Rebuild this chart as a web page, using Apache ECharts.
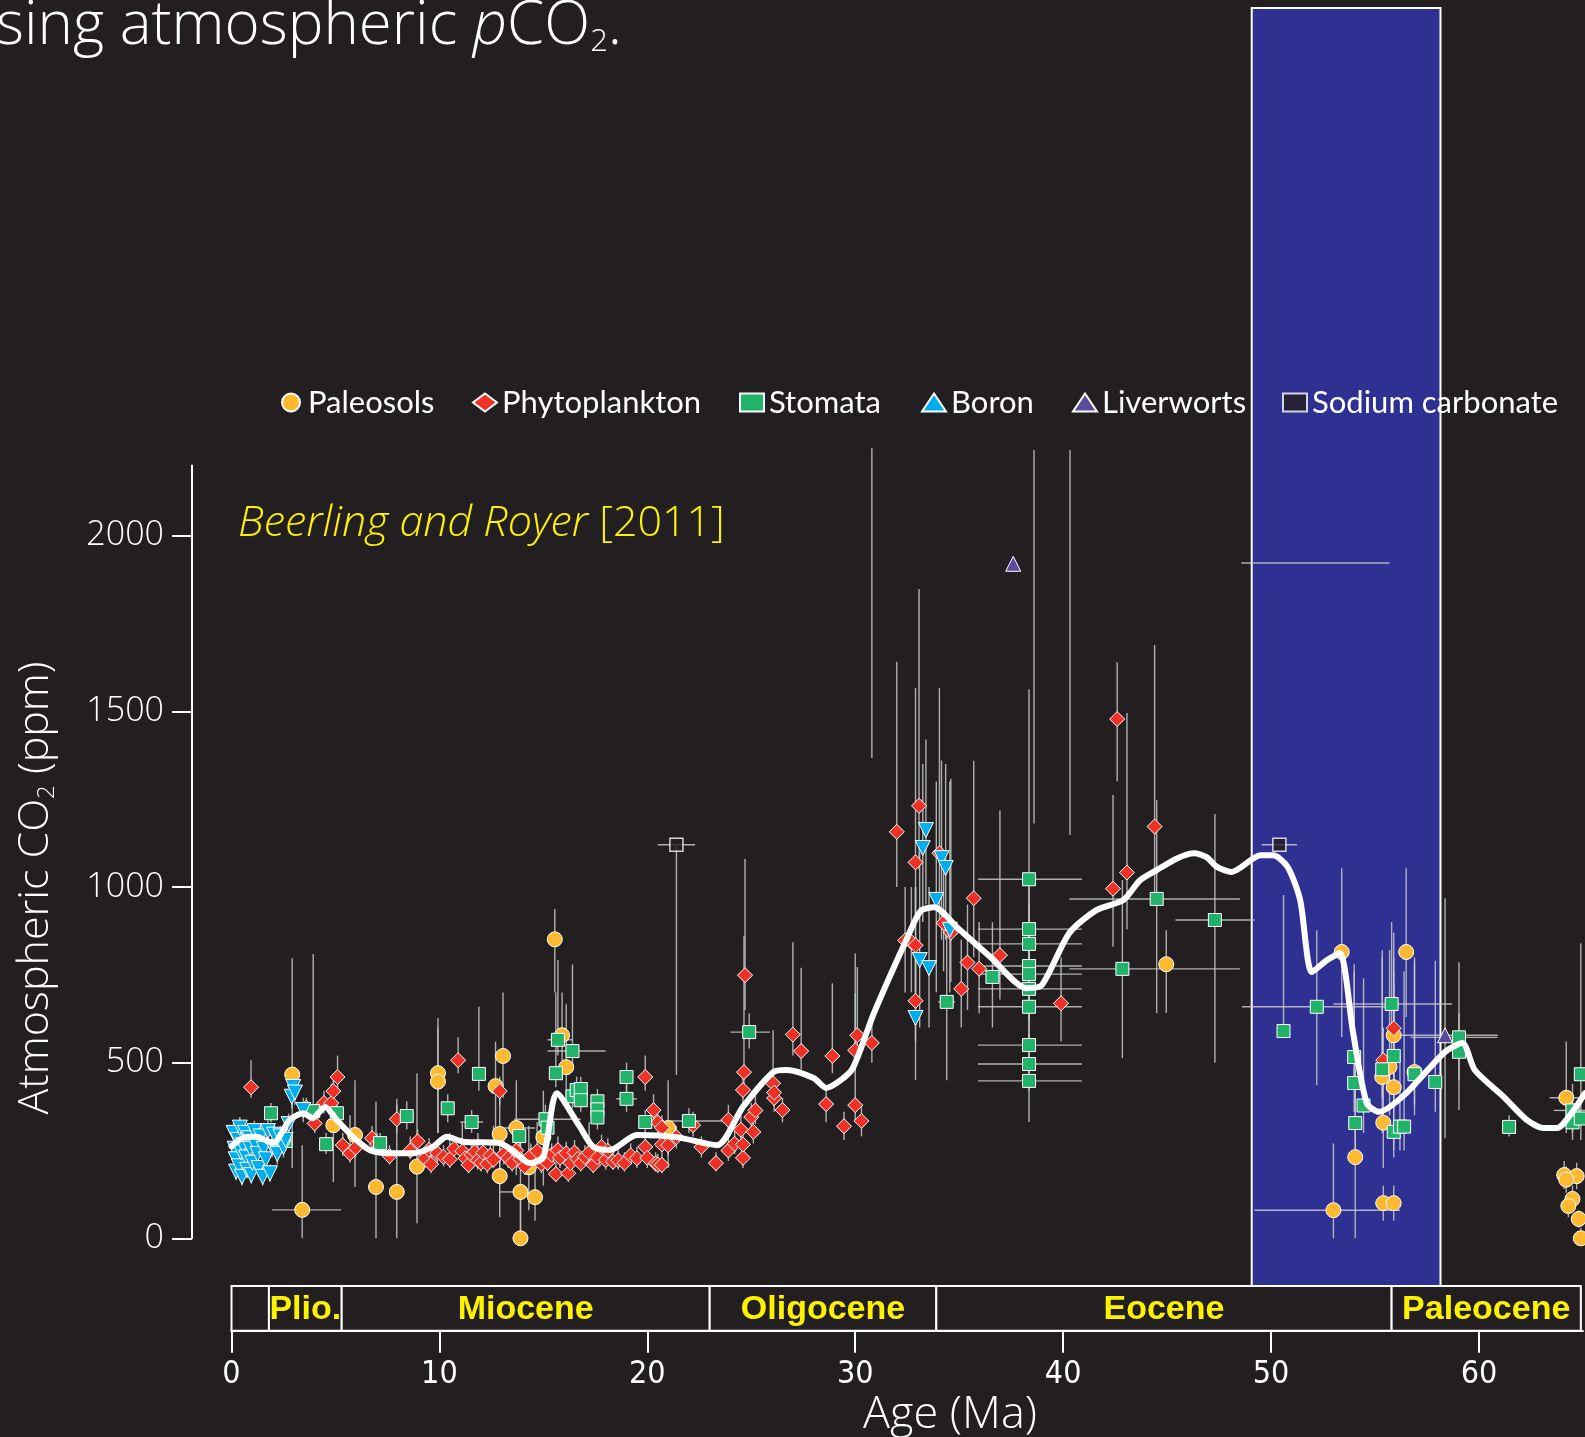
<!DOCTYPE html>
<html>
<head>
<meta charset="utf-8">
<script src="https://cdn.jsdelivr.net/npm/echarts@6/dist/echarts.min.js"></script>
<style>
  html, body { margin: 0; padding: 0; background: #231f20; }
  #chart { width: 1585px; height: 1437px; }
</style>
</head>
<body>
<div id="chart"></div>
<script>
// Cenozoic CO2 proxy compilation.
// Rows: [age (Ma), CO2 (ppm), ppm low, ppm high, age low, age high]; null = no bar.
const paleosols = [
  [2.92, 466, 200, 797], [3.40, 81, 0, 265, 1.95, 5.27], [4.90, 322, 160, 450],
  [5.94, 294, 146, 450], [6.95, 146, 0, 389], [7.95, 132, 0, 397], [8.92, 204, 43, 470],
  [9.93, 470, 300, 627], [9.93, 446, 300, 600], [12.70, 433, 300, 560],
  [12.90, 297, 150, 450], [12.90, 177, 60, 300], [13.06, 519, 400, 700],
  [13.70, 314, 180, 450, 12.9, 14.6], [13.90, 132, 0, 290, 12.9, 14.0], [13.90, 0, 0, 110],
  [14.30, 202, 80, 320], [14.60, 117, 50, 220], [15.00, 288, 150, 420],
  [15.55, 851, 700, 937], [15.90, 578, 450, 700], [16.10, 487, 380, 666],
  [21.00, 314, 200, 450], [44.96, 780, 641, 877],
  [53.40, 815, 573, 1053], [53.00, 80, 0, 270, 49.2, 56.2], [54.05, 231, 0, 560],
  [55.35, 459, 300, 820], [55.40, 329, 200, 500], [55.40, 100, 50, 150, 55.0, 55.9],
  [55.70, 488, 350, 820], [55.90, 578, 400, 720], [55.90, 430, 250, 760],
  [55.90, 100, 50, 150, 55.5, 56.2], [56.50, 815, 630, 1053], [56.90, 473, 350, 800],
  [64.20, 400, 300, 560, 63.4, 65.1], [64.10, 180, 140, 220], [64.70, 177, 140, 215],
  [64.20, 167, 130, 205], [64.50, 112, 80, 150], [64.30, 92, 60, 125],
  [64.80, 55, 30, 80], [64.90, 0, 0, 30]
];

const phytoplankton = [
  [0.94, 430, 400, 507], [3.60, 372, 345, 400], [4.00, 327, 300, 365], [4.45, 385, 355, 420],
  [4.80, 385, 350, 440], [4.90, 419, 385, 470], [5.10, 459, 420, 520], [5.35, 265, 235, 300],
  [5.70, 242, 215, 350], [5.97, 258, 230, 290], [6.76, 285, 255, 320], [7.00, 268, 240, 300],
  [7.60, 234, 210, 265], [7.95, 339, 300, 380], [8.60, 250, 225, 290], [8.95, 276, 245, 310],
  [9.30, 228, 200, 260], [9.50, 252, 225, 285], [9.60, 211, 185, 240], [9.90, 242, 215, 275],
  [10.20, 232, 205, 265], [10.50, 225, 200, 300], [10.70, 255, 225, 290], [10.90, 507, 470, 572],
  [11.10, 248, 220, 330], [11.25, 228, 200, 260], [11.40, 209, 185, 240], [11.55, 238, 210, 270],
  [11.70, 246, 220, 280], [11.85, 222, 195, 300], [12.00, 215, 190, 245], [12.10, 244, 215, 280],
  [12.30, 212, 185, 240], [12.45, 236, 210, 270], [12.60, 224, 200, 320], [12.90, 419, 380, 460],
  [13.10, 240, 210, 300], [13.30, 228, 200, 260], [13.50, 215, 190, 245], [13.70, 250, 220, 285],
  [13.90, 225, 200, 300], [14.10, 205, 180, 235], [14.40, 235, 205, 270], [14.70, 248, 220, 330],
  [14.90, 212, 185, 240], [15.20, 215, 190, 245], [15.40, 238, 210, 270], [15.60, 183, 160, 215],
  [15.70, 251, 225, 290], [15.80, 229, 200, 260], [16.10, 242, 215, 275], [16.20, 185, 160, 215],
  [16.30, 214, 190, 245], [16.50, 244, 215, 280], [16.65, 226, 200, 260], [16.80, 214, 190, 245],
  [17.00, 232, 205, 265], [17.20, 244, 215, 330], [17.40, 209, 185, 240], [17.60, 230, 205, 265],
  [17.80, 260, 230, 295], [18.00, 223, 195, 255], [18.10, 249, 220, 285], [18.35, 218, 195, 250],
  [18.60, 222, 195, 255], [18.90, 214, 190, 245], [19.20, 236, 210, 270], [19.50, 228, 200, 260],
  [19.90, 459, 420, 520], [19.90, 260, 230, 295], [20.00, 229, 200, 260], [20.30, 365, 330, 410],
  [20.40, 213, 190, 245], [20.50, 330, 295, 370], [20.50, 210, 185, 240], [20.70, 315, 280, 350],
  [20.70, 267, 240, 300], [20.70, 209, 185, 240], [21.00, 265, 235, 300], [21.40, 288, 255, 320],
  [22.20, 322, 290, 360], [22.60, 260, 230, 290], [23.30, 214, 190, 245], [23.90, 337, 300, 380],
  [23.90, 250, 220, 285], [24.20, 269, 240, 305], [24.50, 309, 275, 350], [24.60, 229, 200, 260],
  [24.60, 267, 240, 300], [24.60, 422, 380, 470], [24.65, 473, 430, 860], [24.70, 749, 650, 1080],
  [25.00, 345, 310, 385], [25.10, 303, 270, 340], [25.20, 364, 325, 410], [26.05, 441, 400, 592],
  [26.10, 399, 360, 440], [26.10, 415, 375, 460], [26.50, 365, 330, 400], [27.00, 580, 520, 843],
  [27.40, 533, 480, 770], [28.60, 382, 330, 430], [28.90, 519, 470, 726], [29.46, 319, 280, 360],
  [30.00, 379, 330, 698], [30.00, 535, 480, 811], [30.10, 578, 520, 772], [30.30, 334, 290, 380],
  [30.80, 556, 500, 640], [32.00, 1157, 1000, 1641], [32.40, 848, 700, 1000], [32.70, 843, 700, 1000],
  [32.90, 1070, 900, 1566], [32.90, 834, 700, 1000], [32.90, 676, 560, 800], [33.07, 1231, 1050, 1848],
  [34.05, 1096, 900, 1566], [34.25, 898, 760, 1050], [34.60, 870, 730, 1308], [35.10, 710, 600, 850],
  [35.40, 785, 650, 950], [35.70, 968, 800, 1359], [35.96, 767, 640, 900], [36.96, 806, 680, 1218],
  [39.90, 669, 560, 800], [42.40, 995, 830, 1262], [42.60, 1478, 1300, 1640], [43.07, 1041, 880, 1495],
  [44.40, 1172, 960, 1689], [55.40, 507, 430, 600], [55.90, 598, 520, 680]
];

const stomata = [
  [1.90, 356, 330, 385], [2.60, 277, 250, 305], [3.93, 362, 330, 809], [4.55, 268, 240, 300],
  [5.07, 356, 325, 390], [7.15, 271, 245, 300], [8.43, 348, 310, 390], [10.40, 370, 330, 410],
  [11.55, 331, 300, 365, 11.0, 12.1], [11.90, 468, 420, 659], [13.84, 291, 260, 325],
  [15.10, 339, 300, 380, 13.6, 16.8], [15.20, 315, 280, 350], [15.60, 470, 430, 700],
  [15.70, 565, 520, 792, 15.2, 16.4], [16.40, 533, 490, 780, 15.2, 18.0], [16.40, 404, 370, 440],
  [16.60, 422, 385, 460], [16.80, 425, 390, 460], [16.80, 393, 360, 430], [17.60, 390, 355, 425],
  [17.60, 367, 335, 400], [17.60, 344, 310, 380], [19.00, 459, 420, 500],
  [19.00, 397, 360, 435, 18.5, 19.5], [19.90, 331, 300, 365], [22.00, 334, 300, 370, 21.1, 23.6],
  [24.90, 587, 540, 640, 24.0, 25.9], [34.40, 673, 450, 900, 34.0, 34.8], [36.60, 744, 600, 900],
  [38.36, 1022, 900, 1563, 35.9, 40.9], [38.36, 880, 780, 1000, 35.9, 40.9],
  [38.36, 838, 740, 950, 35.9, 40.9], [38.36, 775, 680, 880, 35.9, 40.9],
  [38.36, 752, 650, 860, 35.9, 40.9], [38.36, 710, 620, 820, 35.9, 40.9],
  [38.36, 659, 560, 760, 35.9, 40.9], [38.36, 550, 470, 640, 35.9, 40.9],
  [38.36, 496, 420, 580, 35.9, 40.9], [38.36, 448, 331, 520, 35.9, 40.9],
  [42.85, 767, 513, 1020, 40.3, 48.5], [44.50, 966, 641, 1247, 40.3, 48.5],
  [47.30, 906, 500, 1208, 45.4, 49.2], [50.60, 590, 590, 977], [52.20, 659, 436, 877, 48.6, 55.8],
  [55.80, 667, 500, 900, 53.0, 58.7], [55.90, 519, 430, 800], [54.00, 516, 420, 760],
  [54.00, 442, 360, 780], [54.45, 378, 300, 740], [54.05, 328, 250, 480], [55.35, 481, 400, 800],
  [55.90, 303, 230, 870], [56.20, 318, 250, 520], [56.40, 318, 250, 760], [56.90, 467, 380, 790],
  [57.90, 445, 360, 790], [59.04, 572, 365, 786, 56.7, 60.9], [59.04, 531, 450, 640],
  [61.45, 317, 290, 350], [64.50, 364, 300, 440, 63.6, 65.1], [64.50, 330, 280, 400],
  [64.90, 341, 280, 400], [64.90, 467, 380, 840]
];

const boron = [
  [0.10, 300, 270, 330], [0.15, 255, 225, 285], [0.20, 225, 195, 255], [0.22, 190, 165, 215],
  [0.30, 280, 250, 310], [0.35, 205, 180, 230], [0.40, 315, 285, 345], [0.45, 245, 215, 275],
  [0.50, 175, 150, 200], [0.55, 265, 235, 295], [0.65, 300, 270, 330], [0.70, 230, 200, 260],
  [0.75, 195, 170, 220], [0.85, 285, 255, 315], [0.90, 255, 225, 285], [0.95, 180, 155, 205],
  [1.00, 215, 190, 240], [1.10, 305, 275, 335], [1.15, 265, 235, 295], [1.25, 240, 210, 270],
  [1.30, 200, 175, 225], [1.40, 290, 260, 320], [1.50, 175, 150, 200], [1.55, 255, 225, 285],
  [1.65, 225, 200, 250], [1.75, 305, 275, 335], [1.85, 185, 160, 210], [1.95, 260, 230, 290],
  [2.05, 295, 265, 325], [2.20, 240, 210, 270], [2.35, 290, 260, 320], [2.50, 260, 230, 290],
  [2.60, 280, 250, 310], [2.75, 325, 295, 355], [2.90, 403, 370, 440], [2.97, 431, 395, 470],
  [3.05, 415, 380, 450], [3.45, 365, 330, 400],
  [32.90, 627, 450, 1000], [33.10, 792, 600, 1100], [33.25, 1111, 900, 1350], [33.40, 1162, 950, 1420],
  [33.55, 769, 600, 1000], [33.90, 963, 700, 1300], [34.15, 1082, 850, 1360], [34.35, 1054, 850, 1350],
  [34.55, 878, 700, 1300]
];

const liverworts = [
  [37.60, 1920, null, null], [58.37, 578, 285, 968, 56.2, 60.9]
];

const sodiumCarbonate = [
  [21.40, 1120, 465, 1120, 20.5, 22.3], [50.40, 1120, null, null, 49.55, 51.25]
];

// Uncertainty ranges whose central estimate is not plotted.
const openAgeRanges = [[30.80, 1367, 2249], [38.60, 1181, 2244], [40.33, 1148, 2244]]; // [age, ppm low, ppm high]
const openPpmRanges = [[1922, 48.57, 55.7]]; // [ppm, age low, age high]

// Central trend through the proxy record.
const trendCO2 = [
  [0.0, 262], [0.65, 288], [1.2, 289], [2.0, 271], [2.8, 337], [3.45, 356], [3.9, 342], [4.5, 374],
  [5.06, 337], [5.85, 288], [6.66, 251], [7.77, 242], [8.73, 242], [9.7, 261], [10.35, 289],
  [11.14, 275], [12.9, 271], [13.5, 251], [14.35, 214], [15.0, 231], [15.65, 413], [16.76, 317],
  [17.4, 260], [18.2, 251], [19.5, 294], [21.4, 288], [23.35, 265], [24.6, 374], [26.06, 473],
  [26.7, 479], [28.0, 456], [28.6, 428], [29.3, 450], [29.9, 486], [30.9, 641], [32.5, 855],
  [33.15, 932], [33.8, 942], [34.9, 885], [36.5, 801], [38.25, 712], [38.98, 721], [40.3, 869],
  [41.6, 934], [42.9, 963], [43.7, 1019], [44.5, 1048], [45.5, 1082], [46.3, 1096], [46.9, 1085],
  [47.4, 1057], [48.1, 1043], [49.5, 1090], [50.1, 1090], [50.8, 1057], [51.4, 963], [51.97, 758],
  [52.7, 792], [53.3, 812], [53.95, 584], [54.6, 385], [55.2, 360], [56.5, 413], [58.3, 527],
  [59.2, 556], [59.8, 479], [61.2, 402], [62.3, 337], [63.1, 314], [63.76, 314], [64.5, 360], [65.1, 413]
];

// Geological epochs (Ma).
const epochNames = ['', 'Plio.', 'Miocene', 'Oligocene', 'Eocene', 'Paleocene'];
const epochStarts = [0, 1.8, 5.3, 23.0, 33.9, 55.8];
const epochEnds = [1.8, 5.3, 23.0, 33.9, 55.8, 64.9];

// Highlighted interval (Ma).
const highlightAges = [49.07, 58.15];

const yTicks = [0, 500, 1000, 1500, 2000];
const xTicks = [0, 10, 20, 30, 40, 50, 60];

// ---- styling / layout
const BG = '#231f20';
const BAR_COLOR = 'rgba(200,200,200,0.85)';
const YELLOW = '#fff200';
const THIN_FONT = '"Open Sans", "DejaVu Sans", sans-serif';
const AXIS_X = 192;                 // pixel column of the ppm axis line
const AGE0_X = 231.5;               // pixel column of 0 Ma
const PX_PER_MA = 20.79;
const PLOT_RIGHT = 2.1;
const PLOT_TOP = 465.4, PLOT_H = 772.9;
const SCALE_TOP = 1286, SCALE_H = 44.7;
const BAND_TOP = 8;
const AGE_MIN = -(AGE0_X - AXIS_X) / PX_PER_MA;

function errorBars(rows) {
  return function (params, api) {
    const r = rows[params.dataIndex];
    const kids = [];
    const st = { stroke: BAR_COLOR, lineWidth: 1.4 };
    if (r[2] != null && r[3] != null && r[2] !== r[3]) {
      const a = api.coord([r[0], r[2]]), b = api.coord([r[0], r[3]]);
      kids.push({ type: 'line', shape: { x1: a[0], y1: a[1], x2: b[0], y2: b[1] }, style: st });
    }
    if (r[4] != null && r[5] != null) {
      const a = api.coord([r[4], r[1]]), b = api.coord([r[5], r[1]]);
      kids.push({ type: 'line', shape: { x1: a[0], y1: a[1], x2: b[0], y2: b[1] }, style: st });
    }
    return { type: 'group', children: kids };
  };
}

function barSeries(rows) {
  return {
    type: 'custom', xAxisIndex: 0, yAxisIndex: 0, clip: false, silent: true, z: 2,
    data: rows.map(r => [r[0], r[1]]),
    encode: { x: 0, y: 1 },
    renderItem: errorBars(rows)
  };
}

function proxySeries(name, rows, symbol, size, color, extra) {
  return Object.assign({
    name, type: 'scatter', xAxisIndex: 0, yAxisIndex: 0, clip: false, z: 3,
    symbol, symbolSize: size,
    data: rows.map(r => [r[0], r[1]]),
    itemStyle: { color, borderColor: '#ffffff', borderWidth: 1, opacity: 1 },
    emphasis: { disabled: true }
  }, extra || {});
}

const legendSpots = [
  ['Paleosols', 288], ['Phytoplankton', 479], ['Stomata', 746],
  ['Boron', 928], ['Liverworts', 1079], ['Sodium carbonate', 1289]
];

const chart = echarts.init(document.getElementById('chart'), null, { renderer: 'canvas' });

chart.setOption({
  backgroundColor: BG,
  animation: false,
  grid: [
    { left: AXIS_X, right: PLOT_RIGHT, top: PLOT_TOP, height: PLOT_H },
    { left: AGE0_X, right: PLOT_RIGHT, top: SCALE_TOP, height: SCALE_H }
  ],
  xAxis: [
    { gridIndex: 0, type: 'value', min: AGE_MIN, max: 65, show: false },
    {
      gridIndex: 1, type: 'value', min: 0, max: 65, interval: 10,
      axisLine: { show: true, onZero: false, lineStyle: { color: '#ffffff', width: 2 } },
      axisTick: { show: true, length: 22, customValues: xTicks, lineStyle: { color: '#ffffff', width: 2 } },
      axisLabel: {
        color: '#ffffff', fontSize: 32, margin: 28, customValues: xTicks,
        fontFamily: '"Liberation Sans Narrow", "DejaVu Sans Condensed", sans-serif',
        formatter: v => (xTicks.indexOf(v) >= 0 ? String(v) : '')
      },
      splitLine: { show: false }
    }
  ],
  yAxis: [
    {
      gridIndex: 0, type: 'value', min: 0, max: 2200, interval: 500,
      axisLine: { show: true, onZero: false, lineStyle: { color: '#ffffff', width: 2 } },
      axisTick: { show: true, length: 20, customValues: yTicks, lineStyle: { color: '#ffffff', width: 2 } },
      axisLabel: {
        color: '#ffffff', fontSize: 34, margin: 28, fontFamily: THIN_FONT, fontWeight: 300,
        customValues: yTicks,
        formatter: v => (yTicks.indexOf(v) >= 0 ? String(v) : '')
      },
      splitLine: { show: false }
    },
    { gridIndex: 1, type: 'value', min: 0, max: 1, show: false }
  ],
  legend: legendSpots.map(([name, cx]) => ({
    data: [name], left: cx - 12, top: 382, itemWidth: 24, itemHeight: 18,
    symbolRotate: 0, selectedMode: false,
    textStyle: { color: '#ffffff', fontSize: 31, fontFamily: 'Lato, "Liberation Sans", sans-serif' }
  })),
  graphic: [
    {
      type: 'text', left: -4, top: -3, z: 10,
      style: {
        text: '{r|sing atmospheric }{i|p}{r|CO}{s|2}{r|.}',
        fill: '#ffffff',
        rich: {
          r: { fontSize: 60, fontFamily: THIN_FONT, fontWeight: 300, fill: '#ffffff' },
          i: { fontSize: 60, fontFamily: THIN_FONT, fontWeight: 300, fontStyle: 'italic', fill: '#ffffff' },
          s: { fontSize: 31, fontFamily: THIN_FONT, fontWeight: 300, fill: '#ffffff', padding: [30, 0, 0, 0] }
        }
      }
    },
    {
      type: 'text', left: 238, top: 502, z: 10,
      style: {
        text: '{i|Beerling and Royer }{r|[2011]}',
        rich: {
          i: { fontSize: 43, fontFamily: THIN_FONT, fontWeight: 300, fontStyle: 'italic', fill: YELLOW },
          r: { fontSize: 43, fontFamily: THIN_FONT, fontWeight: 300, fill: YELLOW }
        }
      }
    },
    {
      type: 'text', x: 36, y: 888, rotation: Math.PI / 2, z: 10,
      style: {
        text: '{r|Atmospheric CO}{s|2}{r| (ppm)}',
        align: 'center', verticalAlign: 'middle',
        rich: {
          r: { fontSize: 43, fontFamily: THIN_FONT, fontWeight: 300, fill: '#ffffff' },
          s: { fontSize: 24, fontFamily: THIN_FONT, fontWeight: 300, fill: '#ffffff', padding: [22, 0, 0, 0] }
        }
      }
    },
    {
      type: 'text', x: 950, y: 1415, z: 10,
      style: {
        text: 'Age (Ma)', align: 'center', verticalAlign: 'middle',
        fontSize: 45, fontFamily: THIN_FONT, fontWeight: 300, fill: '#ffffff'
      }
    }
  ],
  series: [
    // highlighted interval
    {
      type: 'custom', xAxisIndex: 0, yAxisIndex: 0, clip: false, silent: true, z: 1,
      data: [highlightAges],
      encode: { x: [0, 1] },
      renderItem: function (params, api) {
        const x1 = api.coord([api.value(0), 0])[0];
        const x2 = api.coord([api.value(1), 0])[0];
        return {
          type: 'rect',
          shape: { x: x1, y: BAND_TOP, width: x2 - x1, height: SCALE_TOP - BAND_TOP },
          style: { fill: '#2e3192', stroke: '#ffffff', lineWidth: 2 }
        };
      }
    },
    // epoch boxes
    {
      type: 'custom', xAxisIndex: 1, yAxisIndex: 1, clip: false, silent: true, z: 5,
      data: epochStarts.map((s, i) => [s, epochEnds[i]]),
      encode: { x: [0, 1] },
      renderItem: function (params, api) {
        const i = params.dataIndex;
        const a = api.coord([epochStarts[i], 1]);
        const b = api.coord([epochEnds[i], 0]);
        return {
          type: 'group',
          children: [
            {
              type: 'rect',
              shape: { x: a[0], y: a[1], width: b[0] - a[0], height: b[1] - a[1] },
              style: { fill: BG, stroke: '#ffffff', lineWidth: 2 }
            },
            {
              type: 'text',
              style: {
                text: epochNames[i], x: (a[0] + b[0]) / 2, y: (a[1] + b[1]) / 2 + 1,
                align: 'center', verticalAlign: 'middle', fill: YELLOW,
                fontSize: 34, fontWeight: 'bold', fontFamily: '"Liberation Sans", Arial, sans-serif'
              }
            }
          ]
        };
      }
    },
    // uncertainty bars
    barSeries(paleosols), barSeries(phytoplankton), barSeries(stomata),
    barSeries(boron), barSeries(liverworts), barSeries(sodiumCarbonate),
    {
      type: 'custom', xAxisIndex: 0, yAxisIndex: 0, clip: false, silent: true, z: 2,
      data: openAgeRanges.map(r => [r[0], r[1]]), encode: { x: 0, y: 1 },
      renderItem: function (params, api) {
        const r = openAgeRanges[params.dataIndex];
        const a = api.coord([r[0], r[1]]), b = api.coord([r[0], r[2]]);
        return { type: 'line', shape: { x1: a[0], y1: a[1], x2: b[0], y2: b[1] },
                 style: { stroke: BAR_COLOR, lineWidth: 1.4 } };
      }
    },
    {
      type: 'custom', xAxisIndex: 0, yAxisIndex: 0, clip: false, silent: true, z: 2,
      data: openPpmRanges.map(r => [r[1], r[0]]), encode: { x: 0, y: 1 },
      renderItem: function (params, api) {
        const r = openPpmRanges[params.dataIndex];
        const a = api.coord([r[1], r[0]]), b = api.coord([r[2], r[0]]);
        return { type: 'line', shape: { x1: a[0], y1: a[1], x2: b[0], y2: b[1] },
                 style: { stroke: BAR_COLOR, lineWidth: 1.4 } };
      }
    },
    // proxies
    proxySeries('Paleosols', paleosols, 'circle', 15, '#fdb92f'),
    proxySeries('Phytoplankton', phytoplankton, 'diamond', 15, '#ee3124'),
    proxySeries('Stomata', stomata, 'rect', 13, '#22b36b'),
    proxySeries('Boron', boron, 'triangle', 15, '#00aeef', { symbolRotate: 180 }),
    proxySeries('Liverworts', liverworts, 'triangle', 15, '#5b4b9e'),
    proxySeries('Sodium carbonate', sodiumCarbonate, 'rect', 13, BG,
      { itemStyle: { color: BG, borderColor: '#ffffff', borderWidth: 1.5 } }),
    // central trend
    {
      type: 'line', xAxisIndex: 0, yAxisIndex: 0, z: 4, silent: true,
      data: trendCO2, showSymbol: false, smooth: 0.25, clip: false,
      lineStyle: { color: '#ffffff', width: 6, join: 'round', cap: 'round' }
    }
  ]
});
</script>
</body>
</html>
